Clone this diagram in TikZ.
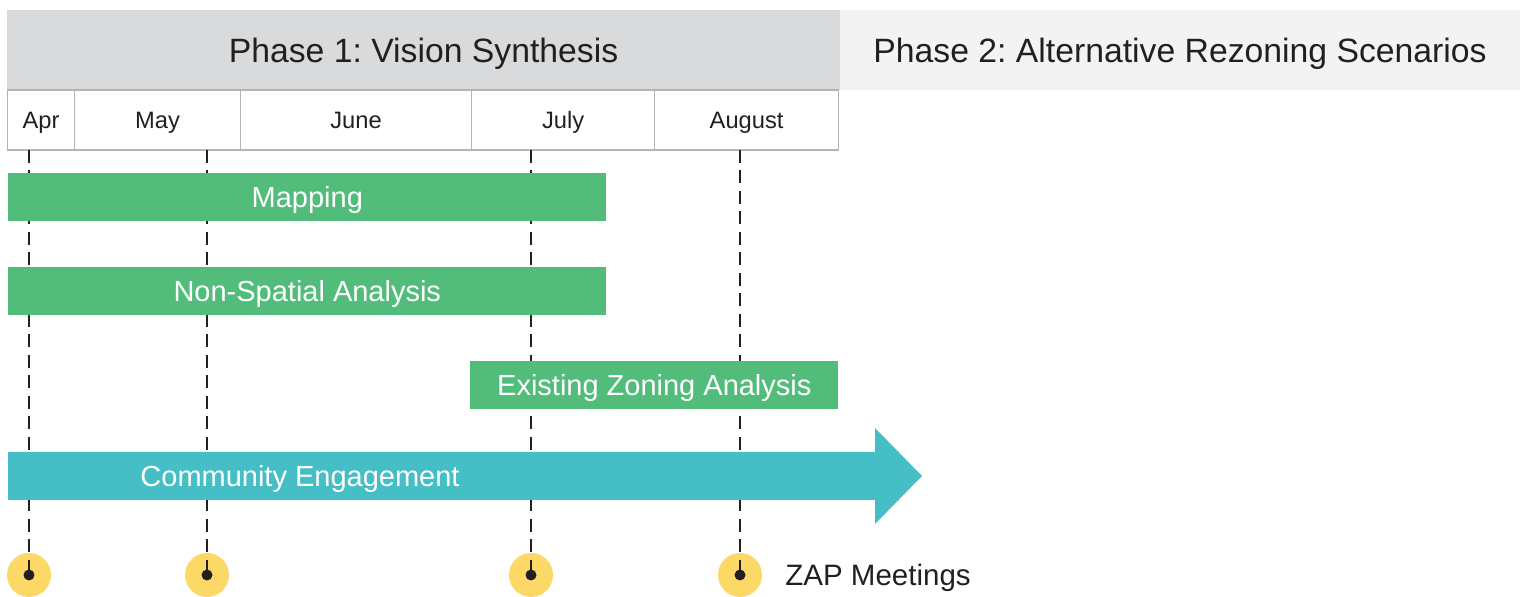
\documentclass[tikz,border=0pt]{standalone}
\usepackage{fontspec}
\setmainfont{Liberation Sans}
\usetikzlibrary{positioning}
\definecolor{phaseone}{RGB}{217,218,220}
\definecolor{phasetwo}{RGB}{243,243,243}
\definecolor{cellgray}{RGB}{180,180,182}
\definecolor{inkgray}{RGB}{35,31,32}
\definecolor{taskgreen}{RGB}{82,189,123}
\definecolor{engageteal}{RGB}{69,190,198}
\definecolor{zapyellow}{RGB}{252,217,102}
\frenchspacing

\begin{document}
\begin{tikzpicture}[x=0.02cm, y=-0.02cm,
        phase/.style={minimum height=1.6cm, inner sep=0, text=inkgray,
                      text height=13.7pt, text depth=0pt,
                      font=\fontsize{19.2}{23}\selectfont},
        month/.style={draw=cellgray, line width=0.7pt, minimum height=1.2cm,
                      inner sep=0, anchor=west, text=inkgray,
                      text height=9.6pt, text depth=0pt,
                      font=\fontsize{13.5}{16}\selectfont},
        task/.style={fill=taskgreen, text=white, minimum height=0.96cm,
                     inner sep=0, anchor=west, text height=11.8pt, text depth=0pt,
                     font=\fontsize{16.5}{20}\selectfont},
        zap/.style={circle, fill=zapyellow, minimum size=0.88cm, inner sep=0},
        pin/.style={circle, fill=inkgray, minimum size=0.22cm, inner sep=0},
        meet/.style={draw=inkgray, line width=1.4pt, dash pattern=on 0.26cm off 0.15cm}]
      \useasboundingbox (0,0) rectangle (1528,597);
      % phases
      \node[phase, fill=phaseone, minimum width=16.66cm] (p1) at (423.5,50) {Phase 1: Vision Synthesis};
      \node[phase, fill=phasetwo, minimum width=13.6cm]  (p2) at (1180,50)  {Phase 2: Alternative Rezoning Scenarios};
      % months
      \node[month, minimum width=1.34cm] (apr) at (7,120)   {Apr};
      \node[month, minimum width=3.32cm] (may) at (74,120)  {May};
      \node[month, minimum width=4.62cm] (jun) at (240,120) {June};
      \node[month, minimum width=3.66cm] (jul) at (471,120) {July};
      \node[month, minimum width=3.68cm] (aug) at (654,120) {August};
      % meetings
      \node[zap] (z1) at (29,575)  {};
      \node[zap] (z2) at (207,575) {};
      \node[zap] (z3) at (531,575) {};
      \node[zap] (z4) at (740,575) {};
      \coordinate (t1) at (29,150);
      \coordinate (t2) at (207,150);
      \coordinate (t3) at (531,150);
      \coordinate (t4) at (740,150);
      \draw[meet] (t1) -- (z1.center);
      \draw[meet] (t2) -- (z2.center);
      \draw[meet] (t3) -- (z3.center);
      \draw[meet] (t4) -- (z4.center);
      \node[pin] (d1) at (z1) {};
      \node[pin] (d2) at (z2) {};
      \node[pin] (d3) at (z3) {};
      \node[pin] (d4) at (z4) {};
      \node[anchor=west, inner sep=0, text=inkgray, text height=11.8pt, text depth=0pt,
            font=\fontsize{16.8}{20}\selectfont] (zaplbl) at (785,575) {ZAP Meetings};
      % tasks
      \node[task, minimum width=11.96cm] (map) at (8,197)   {Mapping};
      \node[task, minimum width=11.96cm] (nsa) at (8,291)   {Non-Spatial Analysis};
      \node[task, minimum width=7.36cm]  (eza) at (470,385) {Existing Zoning Analysis};
      \fill[engageteal] (8,452) -- (875,452) -- (875,428) -- (922,476)
            -- (875,524) -- (875,500) -- (8,500) -- cycle;
      \node[text=white, inner sep=0, text height=11.8pt, text depth=0pt,
            font=\fontsize{16.5}{20}\selectfont] (ce) at (300,476) {Community Engagement};
    \end{tikzpicture}
\end{document}
